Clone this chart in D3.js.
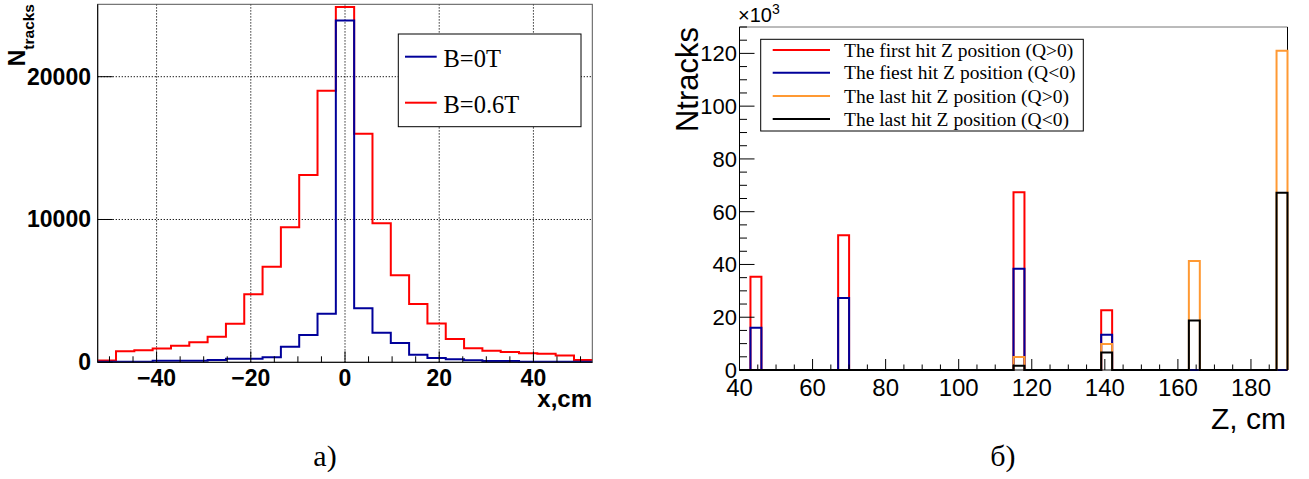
<!DOCTYPE html>
<html><head><meta charset="utf-8">
<script src="https://cdn.jsdelivr.net/npm/d3@7"></script>
<style>body{margin:0;background:#fff} svg{display:block}</style>
</head><body>
<svg id="c" width="1309" height="479"></svg>
<script>
// ---------- Left panel (a) data ----------
const xBinRange = [-52.5, 52.5];
const xBinCount = 27;
const countsB06 = [130,770,840,960,1160,1410,1790,2700,4770,6690,9450,13120,19020,24880,16000,9740,6090,4090,2710,1630,980,810,720,630,600,470,160];
const countsB0  = [40,40,40,110,110,110,160,250,250,350,1090,1910,3400,23930,3780,2070,1350,530,300,210,140,90,90,40,40,40,40];
const leftXTicks = [-40,-20,0,20,40];
const leftYTicks = [0,10000,20000];
const leftLegendLabels = ["B=0T","B=0.6T"];
const leftColors = ["#00009a","#ff0000"];

// ---------- Right panel (б) data (values in thousands) ----------
const zRange = [40,190];
const zBinWidth = 3;
const zBinLow  = [43,67,115,139,163,187];
const firstPos = [35.3,51.1,67.4,22.6,0,0];
const firstNeg = [16.0,27.3,38.4,13.4,0,0];
const lastPos  = [0,0,4.9,9.9,41.3,121.0];
const lastNeg  = [0,0,1.6,6.6,18.8,67.2];
const rightXTicks = [40,60,80,100,120,140,160,180];
const rightYTicks = [0,20,40,60,80,100,120];
const rightLegendLabels = ["The first hit Z position (Q>0)","The fiest hit Z position (Q<0)","The last hit Z position (Q>0)","The last hit Z position (Q<0)"];
const rightColors = ["#ff0000","#00009a","#ff9933","#000000"];

const svg = d3.select("#c");
svg.append("rect").attr("width",1309).attr("height",479).attr("fill","#fff");
const SANS = "'Liberation Sans', Arial, Helvetica, sans-serif";
const SERIF = "'Liberation Serif', 'Times New Roman', serif";

// ================= LEFT PANEL =================
(function(){
  const x = d3.scaleLinear().domain(xBinRange).range([97.7,592.3]);
  const y = d3.scaleLinear().domain([0,25070]).range([362.3,4.3]);
  const g = svg.append("g");
  const [x0,x1] = x.range(), [yb,yt] = y.range();

  // grid
  g.selectAll(".vg").data(leftXTicks).enter().append("line")
    .attr("x1",d=>x(d)).attr("x2",d=>x(d)).attr("y1",yt).attr("y2",yb)
    .attr("stroke","#000").attr("stroke-width",1).attr("stroke-dasharray","1.2,1.8");
  g.selectAll(".hg").data(leftYTicks.slice(1)).enter().append("line")
    .attr("x1",x0).attr("x2",x1).attr("y1",d=>y(d)).attr("y2",d=>y(d))
    .attr("stroke","#000").attr("stroke-width",1).attr("stroke-dasharray","1.2,1.8");

  // histograms
  const w = (xBinRange[1]-xBinRange[0])/xBinCount;
  const stepLine = d3.line().x(d=>x(d[0])).y(d=>y(d[1])).curve(d3.curveStepAfter);
  function pts(arr){ const p = arr.map((v,i)=>[xBinRange[0]+i*w, v]); p.push([xBinRange[1], arr[arr.length-1]]); return p; }
  g.append("path").attr("d",stepLine(pts(countsB06))).attr("fill","none").attr("stroke",leftColors[1]).attr("stroke-width",2);
  g.append("path").attr("d",stepLine(pts(countsB0))).attr("fill","none").attr("stroke",leftColors[0]).attr("stroke-width",2);

  // frame
  g.append("rect").attr("x",x0).attr("y",yt).attr("width",x1-x0).attr("height",yb-yt)
    .attr("fill","none").attr("stroke","#555").attr("stroke-width",1);
  g.append("line").attr("x1",x0).attr("x2",x1).attr("y1",yb).attr("y2",yb).attr("stroke","#000");
  g.append("line").attr("x1",x0).attr("x2",x0).attr("y1",yb).attr("y2",yt).attr("stroke","#000");

  // x ticks
  const minor = d3.range(-50,51,5);
  g.selectAll(".xt").data(minor).enter().append("line")
    .attr("x1",d=>x(d)).attr("x2",d=>x(d)).attr("y1",yb).attr("y2",d=> d%20===0 ? yb-11 : yb-6)
    .attr("stroke","#000").attr("stroke-width",1);
  g.selectAll(".yt").data(leftYTicks).enter().append("line")
    .attr("x1",x0).attr("x2",x0+15).attr("y1",d=>y(d)).attr("y2",d=>y(d))
    .attr("stroke","#000").attr("stroke-width",1);

  // tick labels
  g.selectAll(".xl").data(leftXTicks).enter().append("text")
    .attr("x",d=>x(d)).attr("y",386).attr("text-anchor","middle")
    .attr("font-family",SANS).attr("font-weight","bold").attr("font-size",23)
    .text(d=> d<0 ? "\u2212"+Math.abs(d) : d);
  g.selectAll(".yl").data(leftYTicks).enter().append("text")
    .attr("x",91).attr("y",d=>y(d)+8).attr("text-anchor","end")
    .attr("font-family",SANS).attr("font-weight","bold").attr("font-size",23)
    .text(d=>d);

  // axis titles
  g.append("text").attr("x",592).attr("y",407).attr("text-anchor","end")
    .attr("font-family",SANS).attr("font-weight","bold").attr("font-size",24).text("x,cm");
  const yt2 = g.append("text").attr("transform","translate(25,4) rotate(-90)").attr("text-anchor","end")
    .attr("font-family",SANS).attr("font-weight","bold");
  yt2.append("tspan").attr("font-size",23).text("N");
  yt2.append("tspan").attr("font-size",15.5).attr("dy",9).text("tracks");

  // legend
  const lg = g.append("g");
  lg.append("rect").attr("x",398.3).attr("y",34).attr("width",182.7).attr("height",92.7)
    .attr("fill","#fff").attr("stroke","#000").attr("stroke-width",1);
  const ly = [56.7,102.7];
  leftLegendLabels.forEach((t,i)=>{
    lg.append("line").attr("x1",405).attr("x2",436.7).attr("y1",ly[i]).attr("y2",ly[i])
      .attr("stroke",leftColors[i]).attr("stroke-width",2);
    lg.append("text").attr("x",443.5).attr("y",ly[i]+10.7).attr("font-family",SERIF)
      .attr("font-size",24.5).text(t);
  });
})();

// ================= RIGHT PANEL =================
(function(){
  const x = d3.scaleLinear().domain(zRange).range([739.5,1287.5]);
  const y = d3.scaleLinear().domain([0,130]).range([370,27]);
  const g = svg.append("g");
  const [x0,x1] = x.range(), [yb,yt] = y.range();

  // frame top/right
  g.append("line").attr("x1",x0).attr("x2",x1).attr("y1",yt).attr("y2",yt).attr("stroke","#777");
  g.append("line").attr("x1",x1).attr("x2",x1).attr("y1",yt).attr("y2",yb).attr("stroke","#000");

  // histograms as outline steps
  const line = d3.line().x(d=>x(d[0])).y(d=>y(d[1]));
  function pts(vals){
    const p = [[zRange[0],0]];
    vals.forEach((v,i)=>{
      if(v>0){ const lo=zBinLow[i]; p.push([lo,0],[lo,v],[lo+zBinWidth,v],[lo+zBinWidth,0]); }
    });
    p.push([zRange[1],0]);
    return p;
  }
  [firstPos,firstNeg,lastPos,lastNeg].forEach((s,i)=>{
    g.append("path").attr("d",line(pts(s))).attr("fill","none")
      .attr("stroke",rightColors[i]).attr("stroke-width",2).attr("stroke-linejoin","miter");
  });

  // axes
  g.append("line").attr("x1",x0).attr("x2",x0).attr("y1",yb).attr("y2",yt).attr("stroke","#000");
  g.append("line").attr("x1",x0).attr("x2",x1).attr("y1",yb).attr("y2",yb).attr("stroke","#000");

  const xm = d3.range(40,191,5);
  g.selectAll(".xt").data(xm).enter().append("line")
    .attr("x1",d=>x(d)).attr("x2",d=>x(d)).attr("y1",yb).attr("y2",d=> d%20===0 ? yb-11 : yb-5.5)
    .attr("stroke","#000");
  const ym = d3.range(0,131,5);
  g.selectAll(".yt").data(ym).enter().append("line")
    .attr("x1",x0).attr("x2",d=> d%20===0 ? x0+15 : x0+7.5).attr("y1",d=>y(d)).attr("y2",d=>y(d))
    .attr("stroke","#000");

  g.selectAll(".xl").data(rightXTicks).enter().append("text")
    .attr("x",d=>x(d)).attr("y",396).attr("text-anchor","middle")
    .attr("font-family",SANS).attr("font-size",24).text(d=>d);
  g.selectAll(".yl").data(rightYTicks).enter().append("text")
    .attr("x",737).attr("y",d=>y(d)+8).attr("text-anchor","end")
    .attr("font-family",SANS).attr("font-size",22).text(d=>d);

  // exponent
  const ex = g.append("text").attr("x",738).attr("y",22).attr("font-family",SANS).attr("font-size",20);
  ex.append("tspan").text("\u00d710");
  ex.append("tspan").attr("font-size",14).attr("dy",-8).text("3");

  // titles
  g.append("text").attr("x",1286).attr("y",429).attr("text-anchor","end")
    .attr("font-family",SANS).attr("font-size",30).text("Z, cm");
  g.append("text").attr("transform","translate(698,27) rotate(-90)").attr("text-anchor","end")
    .attr("font-family",SANS).attr("font-size",31).text("Ntracks");

  // legend
  const lg = g.append("g");
  lg.append("rect").attr("x",760.7).attr("y",39.3).attr("width",322.6).attr("height",91.7)
    .attr("fill","#fff").attr("stroke","#000").attr("stroke-width",1);
  const ly = [50,72.7,96,119];
  rightLegendLabels.forEach((t,i)=>{
    lg.append("line").attr("x1",772.7).attr("x2",830).attr("y1",ly[i]).attr("y2",ly[i])
      .attr("stroke",rightColors[i]).attr("stroke-width",2);
    lg.append("text").attr("x",844).attr("y",ly[i]+6.5).attr("font-family",SERIF)
      .attr("font-size",19.5).text(t);
  });
})();

// captions
svg.append("text").attr("x",325).attr("y",466).attr("text-anchor","middle")
  .attr("font-family",SERIF).attr("font-size",30).text("а)");
svg.append("text").attr("x",1003).attr("y",466).attr("text-anchor","middle")
  .attr("font-family",SERIF).attr("font-size",30).text("б)");
</script>
</body></html>
